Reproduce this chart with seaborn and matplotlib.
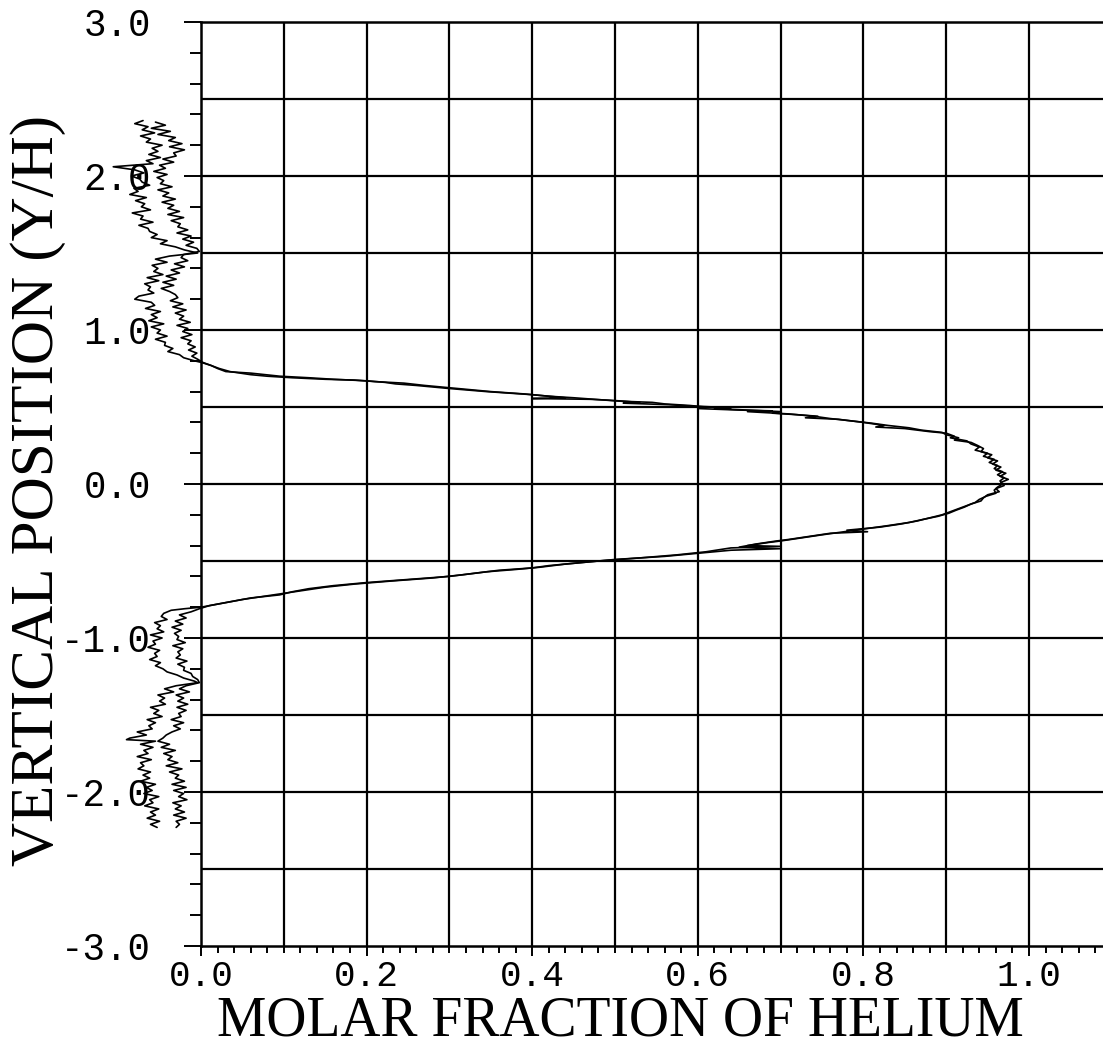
import numpy as np
import pandas as pd
import matplotlib
matplotlib.use("Agg")
import matplotlib.pyplot as plt
import seaborn as sns
from matplotlib.ticker import MultipleLocator, FormatStrFormatter

# ---------------- data ----------------
# Curve A : vertical position (Y/H) and molar fraction of helium
a_pos = [2.36, 2.34, 2.32, 2.30, 2.28, 2.26, 2.24, 2.22, 2.20, 2.18, 2.16, 2.14, 2.12, 2.10,
         2.08, 2.06, 2.04, 2.02, 2.00, 1.98, 1.96, 1.94, 1.92, 1.90, 1.88, 1.86, 1.84, 1.82,
         1.80, 1.78, 1.76, 1.74, 1.72, 1.70, 1.68, 1.66, 1.64, 1.62, 1.60, 1.58, 1.56, 1.54,
         1.52, 1.50, 1.48, 1.46, 1.44, 1.42, 1.40, 1.38, 1.36, 1.34, 1.32, 1.30, 1.28, 1.26,
         1.24, 1.22, 1.20, 1.18, 1.16, 1.14, 1.12, 1.10, 1.08, 1.06, 1.04, 1.02, 1.00, 0.98,
         0.96, 0.94, 0.92, 0.90, 0.88, 0.86, 0.84, 0.82, 0.80, 0.79,
         0.77, 0.75, 0.73, 0.72, 0.70, 0.69, 0.68, 0.67, 0.66, 0.65, 0.64, 0.62, 0.60, 0.58,
         0.56, 0.555, 0.55, 0.545, 0.535, 0.53, 0.52, 0.51, 0.505, 0.495, 0.49, 0.48, 0.47,
         0.46, 0.45, 0.44, 0.43, 0.42, 0.40, 0.38, 0.37, 0.36, 0.34, 0.33, 0.31, 0.30, 0.28,
         0.26, 0.24, 0.22, 0.20, 0.18, 0.16, 0.14, 0.12, 0.10, 0.08, 0.06, 0.04, 0.02, 0.00,
         -0.02, -0.04, -0.06, -0.08, -0.10, -0.12, -0.14, -0.16, -0.18, -0.20, -0.22, -0.24,
         -0.26, -0.28, -0.29, -0.30, -0.31, -0.32, -0.34, -0.36, -0.37, -0.39, -0.41, -0.42,
         -0.43, -0.45, -0.47, -0.49, -0.51, -0.53, -0.545, -0.56, -0.58, -0.60, -0.62, -0.64,
         -0.66, -0.68, -0.70, -0.72, -0.74, -0.76, -0.78, -0.80,
         -0.81, -0.82, -0.84, -0.86, -0.88, -0.90, -0.92, -0.94, -0.96, -0.98, -1.00, -1.02,
         -1.04, -1.06, -1.08, -1.10, -1.12, -1.14, -1.16, -1.18, -1.20, -1.22, -1.24, -1.26,
         -1.28, -1.29, -1.31, -1.33, -1.35, -1.37, -1.39, -1.41, -1.43, -1.45, -1.47, -1.49,
         -1.51, -1.53, -1.55, -1.57, -1.59, -1.61, -1.63, -1.65, -1.66, -1.67, -1.69, -1.71,
         -1.73, -1.75, -1.77, -1.79, -1.81, -1.83, -1.85, -1.87, -1.89, -1.91, -1.93, -1.95,
         -1.97, -1.99, -2.01, -2.03, -2.05, -2.07, -2.09, -2.11, -2.13, -2.15, -2.17, -2.19,
         -2.21, -2.23]
a_frac = [-0.070, -0.080, -0.064, -0.071, -0.056, -0.073, -0.061, -0.066, -0.047, -0.059, -0.052,
          -0.063, -0.049, -0.066, -0.058, -0.106, -0.080, -0.069, -0.084, -0.074, -0.071, -0.062,
          -0.081, -0.076, -0.086, -0.066, -0.079, -0.068, -0.072, -0.061, -0.083, -0.070, -0.073,
          -0.058, -0.075, -0.064, -0.062, -0.053, -0.060, -0.041, -0.049, -0.031, -0.020, -0.004,
          -0.038, -0.055, -0.041, -0.059, -0.052, -0.057, -0.046, -0.065, -0.051, -0.068, -0.061,
          -0.064, -0.057, -0.075, -0.080, -0.060, -0.056, -0.067, -0.049, -0.060, -0.053, -0.063,
          -0.045, -0.060, -0.049, -0.053, -0.041, -0.055, -0.043, -0.044, -0.034, -0.040, -0.026,
          -0.021, -0.008, 0.000,
          0.012, 0.020, 0.030, 0.060, 0.095, 0.130, 0.160, 0.200, 0.222, 0.235, 0.260, 0.300,
          0.345, 0.400, 0.440, 0.400, 0.470, 0.490, 0.520, 0.545, 0.560, 0.590, 0.600, 0.640,
          0.620, 0.660, 0.700, 0.690, 0.720, 0.745, 0.730, 0.770, 0.800, 0.825, 0.815, 0.850,
          0.880, 0.900, 0.910, 0.905, 0.925, 0.930, 0.940, 0.935, 0.950, 0.945, 0.958, 0.952,
          0.962, 0.958, 0.968, 0.962, 0.970, 0.965, 0.968, 0.962, 0.958, 0.960, 0.948, 0.940,
          0.935, 0.925, 0.915, 0.905, 0.895, 0.880, 0.865, 0.845, 0.820, 0.800, 0.780, 0.805,
          0.760, 0.735, 0.710, 0.695, 0.670, 0.650, 0.700, 0.640, 0.600, 0.560, 0.500, 0.460,
          0.420, 0.400, 0.360, 0.330, 0.300, 0.250, 0.200, 0.160, 0.130, 0.110, 0.095, 0.060,
          0.040, 0.020, 0.000,
          -0.020, -0.036, -0.045, -0.048, -0.041, -0.056, -0.049, -0.053, -0.045, -0.061, -0.047,
          -0.058, -0.055, -0.064, -0.050, -0.056, -0.053, -0.062, -0.049, -0.055, -0.046, -0.041,
          -0.029, -0.021, -0.008, -0.004, -0.030, -0.044, -0.033, -0.052, -0.044, -0.050, -0.043,
          -0.061, -0.051, -0.057, -0.047, -0.065, -0.055, -0.063, -0.059, -0.077, -0.066, -0.086,
          -0.090, -0.055, -0.073, -0.058, -0.069, -0.064, -0.077, -0.060, -0.073, -0.069, -0.076,
          -0.061, -0.070, -0.062, -0.073, -0.055, -0.066, -0.059, -0.069, -0.051, -0.062, -0.058,
          -0.068, -0.051, -0.061, -0.055, -0.065, -0.050, -0.061, -0.053]

# Curve B
b_pos = [2.35, 2.33, 2.31, 2.29, 2.27, 2.25, 2.23, 2.21, 2.19, 2.17, 2.15, 2.13, 2.11, 2.09,
         2.07, 2.05, 2.03, 2.01, 1.99, 1.97, 1.95, 1.93, 1.91, 1.89, 1.87, 1.85, 1.83, 1.81,
         1.79, 1.77, 1.75, 1.73, 1.71, 1.69, 1.67, 1.65, 1.63, 1.61, 1.59, 1.57, 1.55, 1.53,
         1.51, 1.49, 1.47, 1.45, 1.43, 1.41, 1.39, 1.37, 1.35, 1.33, 1.31, 1.29, 1.27, 1.25,
         1.23, 1.21, 1.19, 1.17, 1.15, 1.13, 1.11, 1.09, 1.07, 1.05, 1.03, 1.01, 0.99, 0.97,
         0.95, 0.93, 0.91, 0.89, 0.87, 0.85, 0.83, 0.81, 0.79,
         0.77, 0.75, 0.73, 0.71, 0.70, 0.69, 0.68, 0.675, 0.665, 0.655, 0.64, 0.625, 0.61, 0.60,
         0.585, 0.57, 0.56, 0.55, 0.54, 0.53, 0.525, 0.515, 0.50, 0.49, 0.48, 0.475, 0.47,
         0.455, 0.44, 0.425, 0.41, 0.395, 0.38, 0.365, 0.35, 0.335, 0.32, 0.30, 0.285, 0.27,
         0.25, 0.23, 0.21, 0.19, 0.17, 0.15, 0.13, 0.11, 0.09, 0.07, 0.05, 0.03, 0.01, -0.01,
         -0.03, -0.05, -0.07, -0.09, -0.11, -0.13, -0.15, -0.17, -0.19, -0.21, -0.23, -0.25,
         -0.27, -0.285, -0.30, -0.315, -0.33, -0.35, -0.37, -0.38, -0.40, -0.405, -0.415,
         -0.44, -0.46, -0.48, -0.50, -0.52, -0.54, -0.555, -0.57, -0.59, -0.61, -0.63, -0.65,
         -0.67, -0.69, -0.71, -0.73, -0.75, -0.77, -0.79, -0.81,
         -0.83, -0.85, -0.87, -0.89, -0.91, -0.93, -0.95, -0.97, -0.99, -1.01, -1.03, -1.05,
         -1.07, -1.09, -1.11, -1.13, -1.15, -1.17, -1.19, -1.21, -1.23, -1.25, -1.27, -1.29,
         -1.31, -1.33, -1.35, -1.37, -1.39, -1.41, -1.43, -1.45, -1.47, -1.49, -1.51, -1.53,
         -1.55, -1.57, -1.59, -1.61, -1.63, -1.65, -1.67, -1.69, -1.71, -1.73, -1.75, -1.77,
         -1.79, -1.81, -1.83, -1.85, -1.87, -1.89, -1.91, -1.93, -1.95, -1.97, -1.99, -2.01,
         -2.03, -2.05, -2.07, -2.09, -2.11, -2.13, -2.15, -2.17, -2.19, -2.21, -2.23]
b_frac = [-0.055, -0.043, -0.060, -0.037, -0.052, -0.031, -0.039, -0.023, -0.038, -0.020, -0.033,
          -0.030, -0.046, -0.033, -0.050, -0.043, -0.057, -0.041, -0.053, -0.045, -0.049, -0.035,
          -0.052, -0.039, -0.046, -0.031, -0.047, -0.033, -0.040, -0.026, -0.040, -0.021, -0.036,
          -0.025, -0.028, -0.016, -0.029, -0.012, -0.022, -0.009, -0.018, -0.005, -0.002, -0.021,
          -0.024, -0.016, -0.032, -0.020, -0.036, -0.026, -0.042, -0.030, -0.046, -0.033, -0.048,
          -0.038, -0.031, -0.028, -0.037, -0.022, -0.034, -0.018, -0.031, -0.021, -0.026, -0.013,
          -0.029, -0.016, -0.022, -0.011, -0.024, -0.012, -0.016, -0.007, -0.015, -0.005, -0.011,
          -0.004, 0.002,
          0.012, 0.022, 0.035, 0.060, 0.080, 0.110, 0.150, 0.185, 0.210, 0.245, 0.270, 0.300,
          0.330, 0.350, 0.390, 0.420, 0.450, 0.475, 0.500, 0.530, 0.510, 0.565, 0.610, 0.600,
          0.650, 0.690, 0.660, 0.710, 0.740, 0.760, 0.785, 0.810, 0.830, 0.855, 0.870, 0.895,
          0.900, 0.915, 0.910, 0.930, 0.938, 0.945, 0.942, 0.955, 0.950, 0.962, 0.956, 0.966,
          0.960, 0.972, 0.965, 0.975, 0.966, 0.970, 0.960, 0.964, 0.950, 0.945, 0.942, 0.930,
          0.922, 0.912, 0.903, 0.890, 0.872, 0.855, 0.830, 0.810, 0.790, 0.770, 0.750, 0.725,
          0.700, 0.685, 0.660, 0.700, 0.640, 0.610, 0.575, 0.530, 0.480, 0.440, 0.410, 0.380,
          0.345, 0.315, 0.280, 0.230, 0.185, 0.150, 0.125, 0.100, 0.075, 0.050, 0.030, 0.010,
          -0.002,
          -0.012, -0.026, -0.018, -0.031, -0.022, -0.035, -0.024, -0.032, -0.027, -0.029, -0.019,
          -0.034, -0.022, -0.028, -0.025, -0.030, -0.017, -0.028, -0.020, -0.021, -0.012, -0.010,
          -0.004, -0.002, -0.018, -0.026, -0.014, -0.030, -0.021, -0.028, -0.016, -0.029, -0.018,
          -0.027, -0.024, -0.036, -0.021, -0.033, -0.025, -0.035, -0.042, -0.046, -0.052, -0.038,
          -0.048, -0.031, -0.045, -0.035, -0.040, -0.028, -0.042, -0.023, -0.038, -0.027, -0.031,
          -0.020, -0.035, -0.018, -0.033, -0.021, -0.027, -0.017, -0.034, -0.024, -0.031, -0.020,
          -0.033, -0.018, -0.030, -0.026, -0.030]

x_label = "MOLAR FRACTION OF HELIUM"
y_label = "VERTICAL POSITION (Y/H)"

# ---------------- figure ----------------
sns.set_theme(style="white")
plt.rcParams['font.family'] = ['Liberation Mono', 'DejaVu Sans']
plt.rcParams['axes.unicode_minus'] = False

W, H = 1103, 1049
fig = plt.figure(figsize=(W / 100, H / 100), dpi=100)
ax = fig.add_axes([201 / W, 1 - 946 / H, 902 / W, 924 / H])

df = pd.concat([
    pd.DataFrame({"frac": a_frac, "pos": a_pos, "curve": "A"}),
    pd.DataFrame({"frac": b_frac, "pos": b_pos, "curve": "B"}),
], ignore_index=True)

sns.lineplot(data=df, x="frac", y="pos", units="curve", estimator=None, sort=False,
             color="black", linewidth=1.2, ax=ax, clip_on=False, legend=False, zorder=5)

ax.set_xlim(0, (W - 201) / 828)
ax.set_ylim(-3, 3)

# grid
for gx in np.arange(0.1, 1.05, 0.1):
    ax.axvline(gx, color="black", lw=1.6, zorder=1)
for gy in np.arange(-2.5, 2.6, 0.5):
    ax.axhline(gy, color="black", lw=1.6, zorder=1)

ax.xaxis.set_major_locator(MultipleLocator(0.2))
ax.xaxis.set_minor_locator(MultipleLocator(0.02))
ax.yaxis.set_major_locator(MultipleLocator(1.0))
ax.yaxis.set_minor_locator(MultipleLocator(0.2))
ax.xaxis.set_major_formatter(FormatStrFormatter("%.1f"))
ax.yaxis.set_major_formatter(FormatStrFormatter("%.1f"))

ax.tick_params(axis="both", which="both", bottom=True, left=True, top=False, right=False,
               direction="out", color="black", width=1.4)
ax.tick_params(axis="y", which="major", length=12, pad=24, labelsize=27, labelcolor="black")
ax.tick_params(axis="y", which="minor", length=8)
ax.tick_params(axis="x", which="major", length=7, pad=2, labelsize=26, labelcolor="black")
ax.tick_params(axis="x", which="minor", length=5)

for s in ["left", "bottom", "top"]:
    ax.spines[s].set_visible(True)
    ax.spines[s].set_color("black")
    ax.spines[s].set_linewidth(1.8)
ax.spines["right"].set_visible(False)

ax.set_xlabel(x_label, family=["Liberation Serif"], fontsize=40, color="black")
ax.set_ylabel(y_label, family=["Liberation Serif"], fontsize=44, color="black")
ax.xaxis.set_label_coords((620 - 201) / 902, (946 - 996) / 924)
ax.yaxis.set_label_coords((66 - 201) / 902, (946 - 490) / 924)

fig.savefig("out.png", dpi=100)
